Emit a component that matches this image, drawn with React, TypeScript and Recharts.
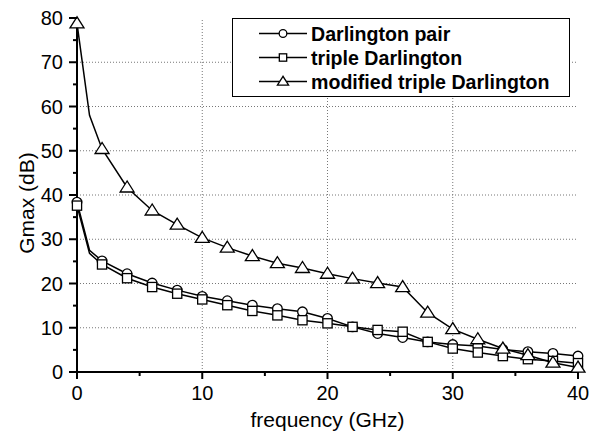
import { LineChart, Line, XAxis, YAxis, ReferenceLine, Legend } from "recharts";

// ===== DATA =====
const freq = [0, 1, 2, 4, 6, 8, 10, 12, 14, 16, 18, 20, 22, 24, 26, 28, 30, 32, 34, 36, 38, 40];
const pairGain = [38.4, 27.5, 25.1, 22.2, 20.1, 18.5, 17.1, 16.1, 15.1, 14.3, 13.6, 12.1, 10.2, 8.7, 7.8, 6.8, 6.2, 5.9, 5.1, 4.6, 4.2, 3.6];
const tripleGain = [37.6, 26.8, 24.3, 21.2, 19.2, 17.7, 16.4, 15.1, 13.8, 12.8, 11.7, 11.0, 10.2, 9.5, 9.1, 6.8, 5.3, 4.4, 3.6, 2.9, 2.5, 2.0];
const modifiedGain = [78.8, 58.0, 50.4, 41.7, 36.5, 33.3, 30.3, 28.1, 26.2, 24.6, 23.5, 22.2, 21.1, 20.1, 19.2, 13.4, 9.7, 7.4, 5.3, 3.8, 2.1, 1.0];

const seriesNames = ["Darlington pair", "triple Darlington", "modified triple Darlington"];
const xTicks = [0, 5, 10, 15, 20, 25, 30, 35, 40];
const yTicks = [0, 5, 10, 15, 20, 25, 30, 35, 40, 45, 50, 55, 60, 65, 70, 75, 80];
const xGrid = [10, 20, 30];
const yGrid = [10, 20, 30, 40, 50, 60, 70];
const noMarkerAt = 1;

const FONT = "Arial, 'Liberation Sans', sans-serif";

// ===== MARKERS =====
const Marker = ({ shape, cx, cy, s = 1 }: any) => {
  if (shape === "circle")
    return <circle cx={cx} cy={cy} r={4.8 * s} fill="#fff" stroke="#000" strokeWidth={1.3} />;
  if (shape === "square")
    return (
      <rect x={cx - 4.6 * s} y={cy - 4.6 * s} width={9.2 * s} height={9.2 * s} fill="#fff" stroke="#000" strokeWidth={1.3} />
    );
  return (
    <polygon
      points={`${cx},${cy - 6.5 * s} ${cx - 7 * s},${cy + 4.5 * s} ${cx + 7 * s},${cy + 4.5 * s}`}
      fill="#fff"
      stroke="#000"
      strokeWidth={1.3}
    />
  );
};

const dotFor = (shape: string) => (props: any) => {
  const { cx, cy, payload, index } = props;
  if (payload.freq === noMarkerAt) return <g key={`d${index}`} />;
  return <Marker key={`d${index}`} shape={shape} cx={cx} cy={cy} />;
};

// ===== TICKS =====
const bottomTick = ({ x, y, payload }: any) => {
  const major = payload.value % 10 === 0;
  return (
    <g>
      <line x1={x} y1={y} x2={x} y2={y + (major ? 7 : 4)} stroke="#000" strokeWidth={2} />
      {major && (
        <text x={x} y={y + 28} textAnchor="middle" fontSize={20} fontFamily={FONT} fill="#000">
          {payload.value}
        </text>
      )}
    </g>
  );
};

const topTick = ({ x, y, payload }: any) => {
  const major = payload.value % 10 === 0;
  return <line x1={x} y1={y} x2={x} y2={y + (major ? 7 : 4)} stroke="#000" strokeWidth={2} />;
};

const leftTick = ({ x, y, payload }: any) => {
  const major = payload.value % 10 === 0;
  return (
    <g>
      <line x1={x - (major ? 8 : 4)} y1={y} x2={x} y2={y} stroke="#000" strokeWidth={2} />
      {major && (
        <text x={x - 14} y={y + 7} textAnchor="end" fontSize={20} fontFamily={FONT} fill="#000">
          {payload.value}
        </text>
      )}
    </g>
  );
};

const rightTick = ({ x, y, payload }: any) => {
  const major = payload.value % 10 === 0;
  return <line x1={x - (major ? 7 : 4)} y1={y} x2={x} y2={y} stroke="#000" strokeWidth={2} />;
};

// ===== LEGEND =====
const shapes = ["circle", "square", "triangle"];
const renderLegend = () => (
  <div style={{ width: 338, height: 79, border: "1px solid #000", background: "#fff", boxSizing: "border-box" }}>
    <svg width={336} height={77} style={{ display: "block" }}>
      {seriesNames.map((name, i) => {
        const cy = 14.5 + i * 24;
        return (
          <g key={name}>
            <line x1={26} x2={74} y1={cy} y2={cy} stroke="#000" strokeWidth={1.3} />
            <Marker shape={shapes[i]} cx={50} cy={cy} s={0.8} />
            <text x={78} y={cy + 7} fontSize={19.6} fontWeight="bold" fontFamily={FONT} fill="#000">
              {name}
            </text>
          </g>
        );
      })}
    </svg>
  </div>
);

// ===== LABELS =====
const yTitle = ({ viewBox }: any) => {
  const cx = viewBox.x + 24;
  const cy = viewBox.y + viewBox.height / 2 + 8;
  return (
    <text x={cx} y={cy} transform={`rotate(-90, ${cx}, ${cy})`} textAnchor="middle" fontSize={21} fontFamily={FONT} fill="#000">
      Gmax (dB)
    </text>
  );
};

const xTitle = ({ viewBox }: any) => (
  <text x={viewBox.x + viewBox.width / 2} y={viewBox.y + 55} textAnchor="middle" fontSize={21} fontFamily={FONT} fill="#000">
    frequency (GHz)
  </text>
);

// ===== COMPONENT =====
export default function App() {
  const data = freq.map((f, i) => ({
    freq: f,
    pair: pairGain[i],
    triple: tripleGain[i],
    modified: modifiedGain[i],
  }));

  return (
    <div style={{ position: "absolute", left: 0, top: 0, width: 591, height: 441, background: "#fff" }}>
      <LineChart width={591} height={441} data={data} margin={{ top: 18, right: 13, bottom: 0, left: 10 }}>
        {xGrid.map((v) => (
          <ReferenceLine key={`x${v}`} x={v} stroke="#777" strokeDasharray="1 2" />
        ))}
        {yGrid.map((v) => (
          <ReferenceLine key={`y${v}`} y={v} stroke="#777" strokeDasharray="1 2" />
        ))}

        <XAxis
          dataKey="freq"
          type="number"
          domain={[0, 40]}
          ticks={xTicks}
          height={69}
          tickSize={0}
          tickMargin={0}
          tick={bottomTick}
          axisLine={{ stroke: "#000", strokeWidth: 2 }}
          label={xTitle}
          interval={0}
        />
        <XAxis
          xAxisId="top"
          orientation="top"
          type="number"
          domain={[0, 40]}
          ticks={xTicks}
          height={0}
          tickSize={0}
          tickMargin={0}
          tick={topTick}
          axisLine={{ stroke: "#000", strokeWidth: 2 }}
          interval={0}
        />
        <YAxis
          type="number"
          domain={[0, 80]}
          ticks={yTicks}
          width={67}
          tickSize={0}
          tickMargin={0}
          tick={leftTick}
          axisLine={{ stroke: "#000", strokeWidth: 2 }}
          label={yTitle}
          interval={0}
        />
        <YAxis
          yAxisId="right"
          orientation="right"
          type="number"
          domain={[0, 80]}
          ticks={yTicks}
          width={0}
          tickSize={0}
          tickMargin={0}
          tick={rightTick}
          axisLine={{ stroke: "#000", strokeWidth: 2 }}
          interval={0}
        />

        <Line dataKey="pair" name={seriesNames[0]} stroke="#000" strokeWidth={1.5} dot={dotFor("circle")} isAnimationActive={false} />
        <Line dataKey="triple" name={seriesNames[1]} stroke="#000" strokeWidth={1.5} dot={dotFor("square")} isAnimationActive={false} />
        <Line dataKey="modified" name={seriesNames[2]} stroke="#000" strokeWidth={1.5} dot={dotFor("triangle")} isAnimationActive={false} />

        <Legend
          layout="vertical"
          align="center"
          verticalAlign="middle"
          content={renderLegend}
          wrapperStyle={{ left: 232, top: 18, width: 338, height: 79 }}
        />
      </LineChart>
    </div>
  );
}
